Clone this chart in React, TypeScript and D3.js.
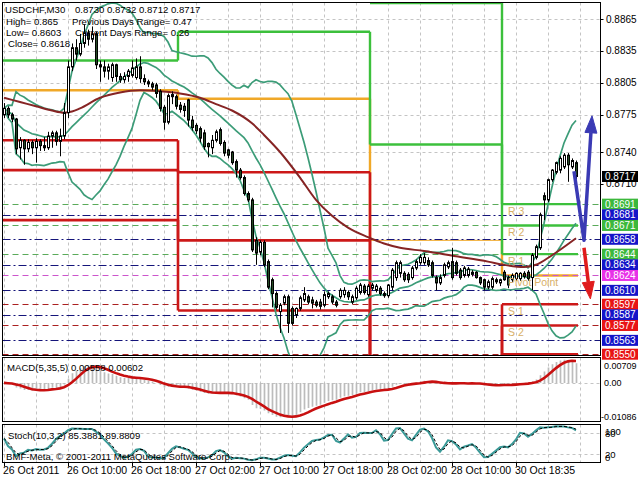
import React from "react";
import * as d3 from "d3";

// ---- Candle data (USDCHF M30), prices x 10^4 ----
const open4 = [8775,8781,8775,8771,8744,8751,8743,8749,8744,8750,8746,8744,8755,8758,8750,8755,8777,8820,8838,8832,8842,8852,8846,8851,8822,8820,8816,8810,8822,8811,8808,8811,8812,8810,8820,8809,8806,8804,8803,8797,8782,8768,8792,8792,8784,8783,8789,8770,8765,8762,8758,8748,8744,8751,8761,8749,8742,8740,8731,8723,8716,8701,8695,8657,8646,8655,8637,8620,8607,8590,8598,8604,8593,8587,8593,8601,8604,8601,8599,8599,8596,8604,8604,8599,8604,8606,8608,8599,8603,8608,8614,8606,8612,8610,8612,8607,8605,8613,8622,8626,8626,8625,8622,8631,8636,8636,8638,8636,8622,8617,8624,8632,8637,8636,8629,8624,8624,8625,8627,8622,8620,8613,8613,8620,8617,8627,8622,8620,8621,8621,8626,8627,8622,8641,8650,8699,8695,8714,8721,8723,8726,8737,8726,8730];
const high4 = [8786,8783,8777,8772,8754,8752,8752,8751,8753,8752,8754,8759,8760,8760,8762,8786,8826,8842,8846,8851,8860,8855,8858,8853,8826,8826,8823,8824,8823,8814,8815,8818,8826,8828,8830,8813,8808,8806,8805,8799,8784,8795,8797,8794,8787,8786,8790,8774,8767,8764,8761,8749,8756,8761,8763,8751,8743,8741,8733,8725,8718,8703,8697,8660,8657,8657,8639,8622,8609,8598,8606,8606,8595,8594,8605,8613,8606,8604,8601,8602,8609,8609,8606,8601,8612,8613,8610,8606,8614,8617,8616,8616,8617,8616,8614,8609,8616,8631,8638,8638,8628,8627,8633,8639,8644,8645,8641,8638,8624,8625,8636,8638,8650,8638,8631,8633,8632,8629,8628,8623,8621,8620,8623,8622,8621,8629,8624,8626,8627,8627,8628,8629,8645,8653,8683,8702,8715,8724,8731,8736,8739,8739,8734,8732];
const low4 = [8772,8772,8768,8738,8733,8728,8740,8738,8730,8741,8741,8742,8744,8746,8736,8752,8772,8816,8826,8830,8838,8840,8843,8818,8806,8810,8808,8806,8806,8805,8805,8806,8810,8808,8805,8803,8801,8798,8791,8778,8761,8766,8785,8780,8777,8773,8764,8760,8757,8749,8742,8735,8738,8749,8746,8736,8734,8728,8716,8714,8699,8693,8646,8634,8643,8632,8611,8594,8592,8570,8596,8570,8577,8584,8591,8599,8597,8593,8594,8592,8594,8602,8597,8594,8602,8603,8601,8597,8601,8606,8606,8604,8610,8608,8605,8603,8603,8610,8619,8622,8618,8617,8620,8629,8634,8634,8632,8622,8610,8615,8622,8630,8620,8624,8620,8622,8622,8623,8621,8615,8610,8611,8611,8616,8614,8619,8612,8618,8619,8619,8621,8619,8610,8639,8648,8676,8693,8712,8719,8720,8724,8712,8724,8712];
const close4 = [8781,8775,8771,8743,8751,8743,8749,8744,8750,8746,8744,8755,8758,8750,8755,8777,8820,8838,8832,8842,8852,8846,8851,8822,8820,8816,8820,8822,8811,8808,8811,8816,8819,8820,8809,8806,8804,8801,8795,8781,8768,8793,8794,8783,8780,8779,8770,8763,8760,8753,8745,8745,8751,8759,8748,8739,8737,8730,8723,8716,8701,8695,8648,8645,8655,8634,8613,8607,8594,8596,8604,8579,8579,8593,8603,8607,8599,8598,8596,8595,8606,8607,8599,8596,8610,8610,8604,8604,8612,8615,8608,8614,8615,8614,8607,8605,8615,8629,8636,8636,8620,8620,8631,8637,8641,8641,8634,8624,8617,8622,8634,8636,8622,8626,8622,8631,8630,8627,8622,8617,8613,8618,8621,8618,8620,8620,8615,8624,8626,8626,8623,8621,8643,8651,8681,8695,8714,8723,8730,8734,8737,8728,8732,8717];

// ---- Slow moving average (brown): [bar, price] ----
const maBars = [0,4,8,12,15,17,19,24,29,34,39,44,49,53,57,62,65,69,74,78,82,86,91,95,99,105,113,121,125,130,133,137,143];
const maPrices = [0.8791,0.8787,0.8783,0.8779,0.8777,0.8778,0.8781,0.8791,0.8796,0.8798,0.8797,0.8795,0.8791,0.8785,0.8779,0.8767,0.8756,0.8740,0.8716,0.8695,0.8680,0.8669,0.8660,0.8654,0.8650,0.8647,0.8642,0.8637,0.8634,0.8632,0.8634,0.8643,0.8659];

// ---- Daily levels (4 sessions) ----
const dayEdges = [-0.5, 43.5, 91.5, 124.5, 143.5];
const limeLevels = [
  [0.8826, 0.8853, 0.8747, 0.8644],
  [null, null, 0.8880, 0.8691],
  [null, null, null, 0.8671],
];
const orangeLevels = [[0.8798, 0.8790, 0.8657, 0.8624]];
const redLevels = [
  [0.8751, 0.8721, 0.8545, 0.8597],
  [0.8723, 0.8657, 0.8535, 0.8577],
  [0.8676, 0.8591, 0.8525, 0.8550],
];

// ---- Pivot lines with coloured price tags ----
const pivotPrices = [0.8691,0.8681,0.8671,0.8658,0.8644,0.8634,0.8624,0.8610,0.8597,0.8587,0.8577,0.8563,0.8550];
const pivotKinds = ["g","b","g","b","g","b","m","b","r","b","r","b","r"];
const pivotTextNames = ["R 3","R 2","R 1","Pivot Point","S 1","S 2"];
const pivotTextPrices = [0.8691,0.8671,0.8644,0.8624,0.8597,0.8577];

// ---- Projection arrows ----
const blueArrowBars = [142.5, 145, 147];
const blueArrowPrices = [0.8722, 0.8657, 0.8774];
const redArrowBars = [145, 146.6];
const redArrowPrices = [0.8650, 0.8602];

// ---- Axes ----
const priceGrid = [0.8865,0.8835,0.8805,0.8775,0.8740,0.8710];
const lastPrice = 0.8717;
const timeLabels = ["26 Oct 2011","26 Oct 10:00","26 Oct 18:00","27 Oct 02:00","27 Oct 10:00","27 Oct 18:00","28 Oct 02:00","28 Oct 10:00","30 Oct 18:35"];
const timeLabelBars = [0,16,32,48,64,80,96,112,128];
const macdTicks = [0.00709, 0.0, -0.01086];
const stochTicks = [100, 80, 20, 0];

const PIP = 1e-4;
const FONT = "'Liberation Sans', Arial, sans-serif";

const kindStroke: Record<string,string> = { g: "#5aaa5a", b: "#14147a", m: "#cc55cc", r: "#aa2020" };
const kindDash: Record<string,string> = { g: "6,4", b: "8,3,2,3", m: "6,4", r: "6,4" };
const kindFill: Record<string,string> = { g: "#3cb83c", b: "#1414c8", m: "#e830e8", r: "#e81414" };

function ema(vals: number[], n: number) {
  const a = 2 / (n + 1);
  const out: number[] = [];
  vals.forEach((v, i) => out.push(i ? a * v + (1 - a) * out[i - 1] : v));
  return out;
}

export default function App() {
  const L = 2.5, R = 600.5;
  const mainTop = 2.5, mainBot = 355.5;
  const macdTop = 357.5, macdBot = 421.5;
  const stTop = 424.5, stBot = 462.5;

  const x = d3.scaleLinear().domain([0, 143]).range([4, 576]);
  const y = d3.scaleLinear().domain([0.8550, 0.8865]).range([354.2, 19]);
  const yM = d3.scaleLinear().domain([-0.01086, 0.00709]).range([421, 358]);
  const yS = d3.scaleLinear().domain([0, 100]).range([461, 426]);

  const closes = close4.map((v) => v * PIP);
  // Bollinger bands (20, 2)
  const bb = closes.map((_, i) => {
    const w = closes.slice(Math.max(0, i - 19), i + 1);
    const m = d3.mean(w) as number;
    const sd = Math.sqrt(d3.mean(w, (v) => (v - m) ** 2) as number);
    return { i, m, up: m + 2 * sd, lo: m - 2 * sd };
  });
  // MACD (5,35,5)
  const e5 = ema(closes, 5), e35 = ema(closes, 35);
  const macd = closes.map((_, i) => e5[i] - e35[i]);
  const signal = macd.map((_, i) => d3.mean(macd.slice(Math.max(0, i - 4), i + 1)) as number);
  // Stochastic (10,3,2)
  const num = closes.map((c, i) => c - (d3.min(low4.slice(Math.max(0, i - 9), i + 1)) as number) * PIP);
  const den = closes.map((_, i) => {
    const lo = (d3.min(low4.slice(Math.max(0, i - 9), i + 1)) as number) * PIP;
    const hi = (d3.max(high4.slice(Math.max(0, i - 9), i + 1)) as number) * PIP;
    return hi - lo;
  });
  const stK = closes.map((_, i) => {
    const a = Math.max(0, i - 2);
    const n = d3.sum(num.slice(a, i + 1)), d = d3.sum(den.slice(a, i + 1));
    return d > 0 ? (100 * n) / d : 50;
  });
  const stD = stK.map((_, i) => d3.mean(stK.slice(Math.max(0, i - 1), i + 1)) as number);

  const lineXY = d3.line<[number, number]>().x((d) => d[0]).y((d) => d[1]);
  const bbLine = (key: "m" | "up" | "lo") => lineXY(bb.map((d) => [x(d.i), y(d[key])]));
  const maPath = d3.line<number>().x((_, k) => x(maBars[k])).y((d) => y(d)).curve(d3.curveMonotoneX)(maPrices);
  const macdSig = lineXY(signal.map((v, i) => [x(i), yM(v)]));
  const kPath = lineXY(stK.map((v, i) => [x(i), yS(v)]));
  const dPath = lineXY(stD.map((v, i) => [x(i), yS(v)]));

  const vGrid = d3.range(0, 145, 8);

  const stepSegs = (series: (number | null)[][], color: string, width: number, key: string, thinDay = -1) => {
    const out: React.ReactElement[] = [];
    series.forEach((lv, s) => {
      lv.forEach((v, d) => {
        if (v == null) return;
        out.push(<line key={`${key}h${s}-${d}`} x1={x(dayEdges[d])} x2={x(dayEdges[d + 1])} y1={y(v)} y2={y(v)} stroke={color} strokeWidth={d === thinDay ? 1 : width} />);
        const nv = lv[d + 1];
        if (nv != null && d + 1 < lv.length) {
          out.push(<line key={`${key}v${s}-${d}`} x1={x(dayEdges[d + 1])} x2={x(dayEdges[d + 1])} y1={y(v)} y2={y(nv)} stroke={color} strokeWidth={width} />);
        }
      });
    });
    return out;
  };

  const arrow = (bars: number[], prices: number[], color: string, key: string) => {
    const pts = bars.map((b, k) => [x(b), y(prices[k])] as [number, number]);
    const [p1, p2] = [pts[pts.length - 2], pts[pts.length - 1]];
    const ang = Math.atan2(p2[1] - p1[1], p2[0] - p1[0]);
    const len = 17, half = 6;
    const bx = p2[0] - len * Math.cos(ang), by = p2[1] - len * Math.sin(ang);
    const nx = -Math.sin(ang), ny = Math.cos(ang);
    const head = `M${p2[0]},${p2[1]}L${bx + half * nx},${by + half * ny}L${bx - half * nx},${by - half * ny}Z`;
    const shaft = pts.slice(0, -1).concat([[bx, by]]);
    return (
      <g key={key}>
        <path d={lineXY(shaft) || ""} fill="none" stroke={color} strokeWidth={3.5} strokeLinejoin="round" />
        <path d={head} fill={color} stroke={color} strokeWidth={1} />
      </g>
    );
  };

  return (
    <div style={{ position: "absolute", left: 0, top: 0, width: 640, height: 480, background: "#fff" }}>
      <svg width={640} height={480} style={{ display: "block", fontFamily: FONT }}>
        <defs>
          <clipPath id="cMain"><rect x={L} y={mainTop} width={R - L} height={mainBot - mainTop} /></clipPath>
          <clipPath id="cMacd"><rect x={L} y={macdTop} width={R - L} height={macdBot - macdTop} /></clipPath>
          <clipPath id="cSt"><rect x={L} y={stTop} width={R - L} height={stBot - stTop} /></clipPath>
        </defs>
        <rect width={640} height={480} fill="#fff" />

        {/* vertical grid */}
        {vGrid.map((b) => (
          <g key={"vg" + b} stroke="#c4c4c4" strokeDasharray="3,3" strokeWidth={1}>
            <line x1={Math.round(x(b)) + 0.5} x2={Math.round(x(b)) + 0.5} y1={mainTop} y2={mainBot} />
            <line x1={Math.round(x(b)) + 0.5} x2={Math.round(x(b)) + 0.5} y1={macdTop} y2={macdBot} />
            <line x1={Math.round(x(b)) + 0.5} x2={Math.round(x(b)) + 0.5} y1={stTop} y2={stBot} />
          </g>
        ))}
        {priceGrid.map((p) => (
          <line key={"hg" + p} x1={L} x2={R} y1={Math.round(y(p)) + 0.5} y2={Math.round(y(p)) + 0.5} stroke="#c4c4c4" strokeDasharray="3,3" />
        ))}

        <g clipPath="url(#cMain)">
          {stepSegs(orangeLevels, "#f0a828", 2.4, "o", 2)}
          {/* pivot dashed lines */}
          {pivotPrices.map((p, k) => (
            <line key={"pl" + k} x1={L} x2={R} y1={Math.round(y(p)) + 0.5} y2={Math.round(y(p)) + 0.5}
              stroke={kindStroke[pivotKinds[k]]} strokeDasharray={kindDash[pivotKinds[k]]} strokeWidth={1} />
          ))}
          {stepSegs(limeLevels, "#3cc03c", 2.4, "l")}
          {stepSegs(redLevels, "#cc1818", 2.6, "r")}

          <path d={bbLine("up") || ""} fill="none" stroke="#3c9c78" strokeWidth={1.7} />
          <path d={bbLine("m") || ""} fill="none" stroke="#3c9c78" strokeWidth={1.7} />
          <path d={bbLine("lo") || ""} fill="none" stroke="#3c9c78" strokeWidth={1.7} />
          <path d={maPath || ""} fill="none" stroke="#862424" strokeWidth={2} />

          {/* candles */}
          {close4.map((c, i) => {
            const xo = Math.round(x(i));
            const yo = y(open4[i] * PIP), yc = y(c * PIP);
            const bull = c >= open4[i];
            const top = Math.min(yo, yc), h = Math.max(1, Math.abs(yo - yc));
            return (
              <g key={"c" + i}>
                <line x1={xo + 0.5} x2={xo + 0.5} y1={y(high4[i] * PIP)} y2={y(low4[i] * PIP)} stroke="#000" strokeWidth={1} />
                <rect x={xo - 0.5} y={top} width={2} height={h} fill={bull ? "#fff" : "#244a24"} stroke="#000" strokeWidth={1} />
              </g>
            );
          })}

          {pivotTextNames.map((t, k) => (
            <text key={"pt" + k} x={x(126)} y={y(pivotTextPrices[k]) + 7} fontSize={10.5} fill="#d8b068" dominantBaseline="central">{t}</text>
          ))}

          {arrow(blueArrowBars, blueArrowPrices, "#3a3ab4", "ba")}
          {arrow(redArrowBars, redArrowPrices, "#e01c1c", "ra")}
        </g>

        {/* header texts */}
        <g fontSize={9.6} fill="#000">
          <text x={5} y={13}>USDCHF,M30</text>
          <text x={75} y={13}>0.8730 0.8732 0.8712 0.8717</text>
          <text x={6} y={25}>High= 0.865</text>
          <text x={72} y={25}>Previous Days Range= 0.47</text>
          <text x={6} y={36}>Low= 0.8603</text>
          <text x={75} y={36}>Current Days Range= 0.26</text>
          <text x={8} y={47}>Close= 0.8618</text>
        </g>

        {/* MACD panel */}
        <line x1={L} x2={R} y1={Math.round(yM(0)) + 0.5} y2={Math.round(yM(0)) + 0.5} stroke="#c4c4c4" strokeDasharray="3,3" />
        <g clipPath="url(#cMacd)">
          {macd.map((v, i) => (
            <line key={"h" + i} x1={Math.round(x(i)) + 0.5} x2={Math.round(x(i)) + 0.5} y1={yM(0)} y2={yM(v)} stroke="#bcbcbc" strokeWidth={1.7} />
          ))}
          <path d={macdSig || ""} fill="none" stroke="#c81010" strokeWidth={2.6} />
        </g>
        <text x={7} y={371} fontSize={9.6}>MACD(5,35,5) 0.00558 0.00602</text>

        {/* Stochastic panel */}
        {[80, 20].map((v) => (
          <line key={"sl" + v} x1={L} x2={R} y1={Math.round(yS(v)) + 0.5} y2={Math.round(yS(v)) + 0.5} stroke="#c4c4c4" strokeDasharray="3,3" />
        ))}
        <g clipPath="url(#cSt)">
          <path d={kPath || ""} fill="none" stroke="#3a9a98" strokeWidth={2} />
          <path d={dPath || ""} fill="none" stroke="#000" strokeWidth={1} strokeDasharray="3,2" />
        </g>
        <text x={8} y={439} fontSize={9.6}>Stoch(10,3,2) 85.3881 89.8809</text>
        <text x={6} y={460} fontSize={9.6}>BMF-Meta, © 2001-2011 MetaQuotes Software Corp.</text>

        {/* frames */}
        <g fill="none" stroke="#000" strokeWidth={1}>
          <rect x={L} y={mainTop} width={R - L} height={mainBot - mainTop} />
          <rect x={L} y={macdTop} width={R - L} height={macdBot - macdTop} />
          <rect x={L} y={stTop} width={R - L} height={stBot - stTop} />
        </g>

        {/* price axis */}
        <g fontSize={10}>
          {priceGrid.map((p) => (
            <g key={"pa" + p}>
              <line x1={R} x2={R + 3} y1={Math.round(y(p)) + 0.5} y2={Math.round(y(p)) + 0.5} stroke="#000" />
              <text x={606} y={y(p)} dominantBaseline="central">{p.toFixed(4)}</text>
            </g>
          ))}
          {pivotPrices.map((p, k) => (
            <g key={"tag" + k}>
              <rect x={602} y={y(p) - 5.5} width={36} height={11} fill={kindFill[pivotKinds[k]]} />
              <text x={605} y={y(p)} fill="#fff" dominantBaseline="central">{p.toFixed(4)}</text>
            </g>
          ))}
          <rect x={602} y={y(lastPrice) - 5.5} width={36} height={11} fill="#000" />
          <text x={605} y={y(lastPrice)} fill="#fff" dominantBaseline="central">{lastPrice.toFixed(4)}</text>
        </g>
        <g fontSize={9}>
          {macdTicks.map((v, k) => (
            <text key={"mt" + k} x={k === 2 ? 601 : 604} y={k === 0 ? yM(v) + 8 : k === 2 ? yM(v) - 4 : yM(v)} dominantBaseline="central">{v === 0 ? "0.00" : String(v)}</text>
          ))}
        </g>
        <g fontSize={9.5}>
          {stochTicks.map((v) => (
            <text key={"st" + v} x={605} y={v === 100 ? yS(v) + 5 : v === 0 ? yS(v) - 4 : yS(v)} dominantBaseline="central">{v}</text>
          ))}
        </g>

        {/* time axis */}
        <g fontSize={10.5}>
          {timeLabelBars.map((b, k) => (
            <g key={"tl" + k}>
              <line x1={Math.round(x(b)) + 0.5} x2={Math.round(x(b)) + 0.5} y1={stBot} y2={stBot + 4} stroke="#000" />
              <text x={x(b) - 1} y={474}>{timeLabels[k]}</text>
            </g>
          ))}
        </g>
      </svg>
    </div>
  );
}
